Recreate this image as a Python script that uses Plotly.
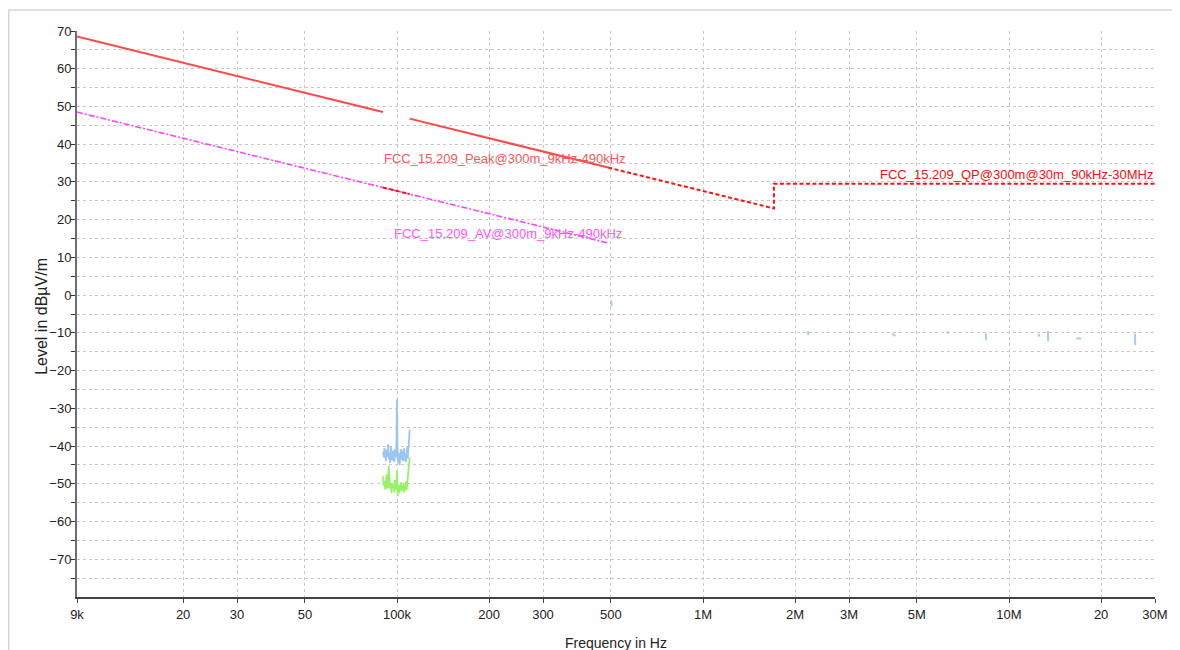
import plotly.graph_objects as go
import math

# ---------------- data ----------------
# limit lines (frequency in Hz, level in dBµV/m)
peak1_f = [9000, 90000]
peak1_v = [68.52, 48.52]
peak2_f = [110000, 490000]
peak2_v = [46.78, 33.80]
qp_f = [90000, 110000, None, 490000, 1705000, 1705000, 30000000]
qp_v = [28.52, 26.78, None, 33.80, 22.97, 29.54, 29.54]
av_f = [9000, 490000]
av_v = [48.52, 13.80]

# measured traces around 90-110 kHz
meas_f = [90000, 90500, 91000, 91500, 92000, 92500, 93000, 93500, 94000, 94500,
          95000, 95500, 96000, 96500, 97000, 97500, 98000, 98500, 99000, 99500,
          100000, 100500, 101000, 101500, 102000, 102500, 103000, 103500, 104000, 104500,
          105000, 105500, 106000, 106500, 107000, 107500, 108000, 108500, 109000, 109500,
          110000]
peak_trace = [-41.5, -43.0, -40.5, -42.5, -44.0, -41.0, -42.8, -39.5, -43.5, -41.8,
              -44.5, -40.2, -42.0, -43.8, -41.2, -42.9, -44.2, -40.8, -43.0, -41.5,
              -27.6, -43.0, -44.5, -41.8, -45.0, -42.5, -40.8, -43.6, -41.2, -44.0,
              -42.3, -40.6, -43.8, -41.9, -44.3, -42.1, -40.2, -43.2, -39.0, -37.5,
              -35.6]
avg_trace = [-48.0, -50.5, -49.2, -51.5, -50.0, -47.5, -51.2, -50.8, -45.2, -49.5,
             -51.2, -50.0, -52.5, -49.8, -51.0, -50.2, -52.2, -49.0, -51.5, -50.3,
             -46.5, -53.2, -51.0, -52.5, -50.2, -51.8, -49.6, -52.0, -50.5, -51.5,
             -49.8, -52.3, -50.8, -51.2, -49.4, -51.7, -50.0, -48.5, -47.0, -45.0,
             -43.0]

# sparse fragments of the high-frequency scan
frag_f = [501000, 503000, None, 2200000, 2210000, None, 4150000, 4250000, None,
          6250000, 6350000, None, 8400000, 8420000, None, 12500000, 12550000, None,
          13400000, 13420000, None, 16600000, 17200000, None, 25800000, 25850000]
frag_v = [-1.4, -3.0, None, -9.5, -10.6, None, -10.2, -10.8, None,
          -9.6, -10.2, None, -10.2, -12.0, None, -10.3, -11.0, None,
          -9.5, -12.2, None, -11.4, -11.5, None, -10.2, -13.3]

x_tickvals = [9000, 20000, 30000, 50000, 100000, 200000, 300000, 500000,
              1000000, 2000000, 3000000, 5000000, 10000000, 20000000, 30000000]
x_ticktext = ["9k", "20", "30", "50", "100k", "200", "300", "500",
              "1M", "2M", "3M", "5M", "10M", "20", "30M"]
y_tickvals = [70, 60, 50, 40, 30, 20, 10, 0, -10, -20, -30, -40, -50, -60, -70]
y_minorvals = [65, 55, 45, 35, 25, 15, 5, -5, -15, -25, -35, -45, -55, -65, -75]

# ---------------- figure ----------------
fig = go.Figure()

fig.add_trace(go.Scatter(x=meas_f, y=peak_trace, mode="lines",
                         line=dict(color="#9cc6f2", width=1.8), hoverinfo="skip"))
fig.add_trace(go.Scatter(x=meas_f, y=avg_trace, mode="lines",
                         line=dict(color="#98f066", width=1.8), hoverinfo="skip"))
fig.add_trace(go.Scatter(x=frag_f, y=frag_v, mode="lines", connectgaps=False,
                         line=dict(color="#a6cdf4", width=2), hoverinfo="skip"))

fig.add_trace(go.Scatter(x=av_f, y=av_v, mode="lines",
                         line=dict(color="#ff44ff", width=1.6, dash="6px,2px,2px,2px")))
fig.add_trace(go.Scatter(x=peak1_f, y=peak1_v, mode="lines",
                         line=dict(color="#ff4848", width=2)))
fig.add_trace(go.Scatter(x=peak2_f, y=peak2_v, mode="lines",
                         line=dict(color="#ff4848", width=2)))
fig.add_trace(go.Scatter(x=qp_f, y=qp_v, mode="lines", connectgaps=False,
                         line=dict(color="#ff1010", width=2, dash="4px,2.5px")))

xl0 = math.log10(9000)
xl1 = math.log10(30000000)

font_main = "Liberation Sans, Arial, sans-serif"

fig.update_layout(
    width=1172, height=642,
    margin=dict(l=69, t=23, r=17, b=53),
    paper_bgcolor="white", plot_bgcolor="white",
    showlegend=False,
    font=dict(family=font_main, size=13, color="#222222"),
    xaxis=dict(
        type="log", range=[xl0, xl1],
        tickvals=x_tickvals, ticktext=x_ticktext,
        showgrid=True, gridcolor="#c8c8c8", griddash="dot", gridwidth=1,
        showline=True, linecolor="#444444", linewidth=1.5,
        ticks="outside", ticklen=4, tickcolor="#444444",
        ticklabelstandoff=1,
        zeroline=False,
        tickfont=dict(size=13, color="#222222"),
    ),
    yaxis=dict(
        range=[-80, 70],
        tickvals=y_tickvals,
        showgrid=True, gridcolor="#c8c8c8", griddash="dot", gridwidth=1,
        showline=True, linecolor="#6e6e6e", linewidth=2,
        ticks="outside", ticklen=4, tickcolor="#333333",
        ticklabelstandoff=-3,
        zeroline=False,
        tickfont=dict(size=13, color="#222222"),
        minor=dict(tickvals=y_minorvals, showgrid=True, gridcolor="#c8c8c8",
                   griddash="dot", ticks="outside", ticklen=4, tickcolor="#333333"),
    ),
    shapes=[
        dict(type="rect", xref="paper", yref="paper",
             x0=-0.0633, x1=1.1, y0=-0.3, y1=1.0372,
             line=dict(color="#d6d6d6", width=1.5), fillcolor="rgba(0,0,0,0)",
             layer="below"),
    ],
    annotations=[
        dict(text="FCC_15.209_Peak@300m_9kHz-490kHz", xref="x", yref="y",
             x=4.9506, y=36.25, xanchor="left", yanchor="middle", showarrow=False,
             font=dict(family=font_main, size=13, color="#f25a5a")),
        dict(text="FCC_15.209_AV@300m_9kHz-490kHz", xref="x", yref="y",
             x=4.983, y=16.3, xanchor="left", yanchor="middle", showarrow=False,
             font=dict(family=font_main, size=13, color="#ff55ff")),
        dict(text="FCC_15.209_QP@300m@30m_90kHz-30MHz", xref="paper", yref="y",
             x=1.0, y=32.0, xanchor="right", yanchor="middle", showarrow=False,
             xshift=1,
             font=dict(family=font_main, size=13, color="#f01010")),
        dict(text="Frequency in Hz", xref="paper", yref="paper",
             x=0.5, y=0, xanchor="center", yanchor="top", showarrow=False,
             yshift=-36,
             font=dict(family=font_main, size=14, color="#222222")),
        dict(text="Level in dBµV/m", xref="paper", yref="paper",
             x=0, y=0.495, xanchor="center", yanchor="middle", showarrow=False,
             xshift=-35, textangle=-90,
             font=dict(family=font_main, size=16, color="#222222")),
    ],
)

fig.write_html("out.html", config={"displayModeBar": False})
